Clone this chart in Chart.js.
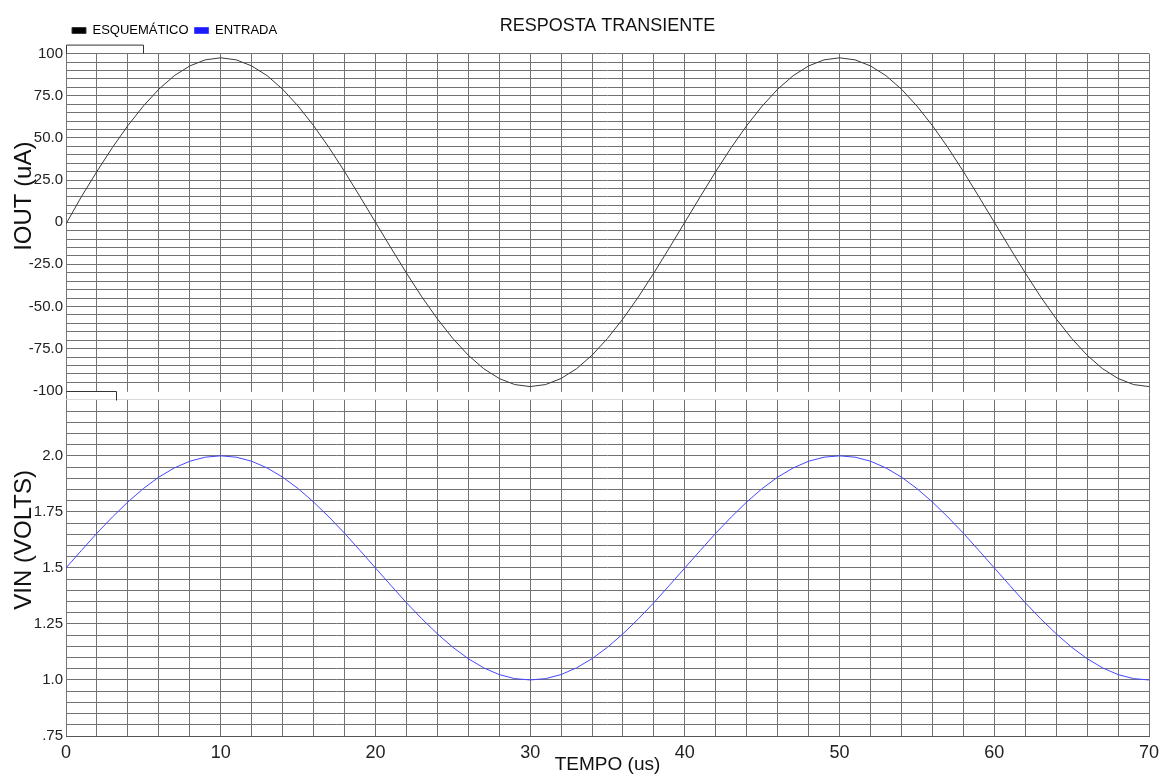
<!DOCTYPE html>
<html>
<head>
<meta charset="utf-8">
<title>Resposta transiente</title>
<script src="https://cdn.jsdelivr.net/npm/chart.js@4.4.1/dist/chart.umd.min.js"></script>
<style>
  html, body { margin: 0; padding: 0; background: #fff; }
  #quadro { position: relative; width: 1174px; height: 774px; }
</style>
</head>
<body>
<div id="quadro"><canvas id="grafico"></canvas></div>
<script>
// tempo em us
var tempo = [0, 1, 2, 3, 4, 5, 6, 7, 8, 9, 10, 11, 12, 13, 14, 15, 16, 17, 18, 19, 20,
  21, 22, 23, 24, 25, 26, 27, 28, 29, 30, 31, 32, 33, 34, 35, 36, 37, 38, 39, 40,
  41, 42, 43, 44, 45, 46, 47, 48, 49, 50, 51, 52, 53, 54, 55, 56, 57, 58, 59, 60,
  61, 62, 63, 64, 65, 66, 67, 68, 69, 70];

var iout = [-1, 15.2, 30.1, 44.3, 57.3, 68.9, 78.9, 86.9, 92.7, 96.3, 97.5,
  96.3, 92.7, 86.9, 78.9, 68.9, 57.3, 44.3, 30.1, 15.2, 0,
  -15.2, -30.1, -44.3, -57.3, -68.9, -78.9, -86.9, -92.7, -96.3, -97.5,
  -96.3, -92.7, -86.9, -78.9, -68.9, -57.3, -44.3, -30.1, -15.2, 0,
  15.2, 30.1, 44.3, 57.3, 68.9, 78.9, 86.9, 92.7, 96.3, 97.5,
  96.3, 92.7, 86.9, 78.9, 68.9, 57.3, 44.3, 30.1, 15.2, 0,
  -15.2, -30.1, -44.3, -57.3, -68.9, -78.9, -86.9, -92.7, -96.3, -97.5];

// VIN (volts) da entrada
var vin = [1.500, 1.578, 1.655, 1.727, 1.794, 1.854, 1.905, 1.946, 1.976, 1.994, 2.000,
  1.994, 1.976, 1.946, 1.905, 1.854, 1.794, 1.727, 1.655, 1.578, 1.500,
  1.422, 1.345, 1.273, 1.206, 1.146, 1.095, 1.054, 1.024, 1.006, 1.000,
  1.006, 1.024, 1.054, 1.095, 1.146, 1.206, 1.273, 1.345, 1.422, 1.500,
  1.578, 1.655, 1.727, 1.794, 1.854, 1.905, 1.946, 1.976, 1.994, 2.000,
  1.994, 1.976, 1.946, 1.905, 1.854, 1.794, 1.727, 1.655, 1.578, 1.500,
  1.422, 1.345, 1.273, 1.206, 1.146, 1.095, 1.054, 1.024, 1.006, 1.000];

var tempoTicks = [0, 10, 20, 30, 40, 50, 60, 70];
var tempoLabels = ['0', '10', '20', '30', '40', '50', '60', '70'];
var ioutTicks = [-100, -75, -50, -25, 0, 25, 50, 75, 100];
var ioutLabels = ['-100', '-75.0', '-50.0', '-25.0', '0', '25.0', '50.0', '75.0', '100'];
var vinTicks = [0.75, 1.0, 1.25, 1.5, 1.75, 2.0];
var vinLabels = ['.75', '1.0', '1.25', '1.5', '1.75', '2.0'];

var sans = "'Liberation Sans', Arial, sans-serif";
var corGrade = '#727272';

function rotulo(valores, textos) {
  return function (v) {
    for (var i = 0; i < valores.length; i++) {
      if (Math.abs(v - valores[i]) < 1e-6) return textos[i];
    }
    return '';
  };
}

function pontos(ys) {
  return tempo.map(function (t, i) { return { x: t, y: ys[i] }; });
}

function tituloVertical(c, texto, x, y) {
  c.save();
  c.fillStyle = '#111';
  c.font = '24px ' + sans;
  c.textAlign = 'center';
  c.textBaseline = 'middle';
  c.translate(x, y);
  c.rotate(-Math.PI / 2);
  c.fillText(texto, 0, 0);
  c.restore();
}

// titulos verticais e recortes do quadro
var extras = {
  id: 'extras',
  beforeDatasetsDraw: function (chart) {
    var c = chart.ctx, a = chart.chartArea, x = chart.scales.x;
    var yI = chart.scales.yI, yV = chart.scales.yV;
    var meio = yV.top - yI.bottom;
    c.save();
    if (meio > 0) {
      c.fillStyle = '#fff';
      c.fillRect(a.left + 1, yI.bottom + 1, a.right - a.left - 1, meio - 1.5);
    }
    c.strokeStyle = '#333';
    c.lineWidth = 1;
    var x0 = Math.round(x.getPixelForValue(0)) + 0.5;
    var x5 = Math.round(x.getPixelForValue(5)) + 0.5;
    var x3 = Math.round(x.getPixelForValue(3.2)) + 0.5;
    c.beginPath();
    c.moveTo(x0, a.top);
    c.lineTo(x0, a.top - 8.5);
    c.lineTo(x5, a.top - 8.5);
    c.lineTo(x5, a.top);
    c.moveTo(x0, Math.round(yI.bottom) + 0.5);
    c.lineTo(x3, Math.round(yI.bottom) + 0.5);
    c.lineTo(x3, Math.round(yV.top) + 0.5);
    c.stroke();
    c.restore();
  },
  afterDraw: function (chart) {
    var yI = chart.scales.yI, yV = chart.scales.yV;
    tituloVertical(chart.ctx, 'IOUT (uA)', 24, (yI.top + yI.bottom) / 2 - 26);
    tituloVertical(chart.ctx, 'VIN (VOLTS)', 24, (yV.top + yV.bottom) / 2 - 28);
  }
};

var grafico = new Chart(document.getElementById('grafico'), {
  type: 'line',
  data: {
    datasets: [
      {
        label: 'ESQUEMÁTICO',
        data: pontos(iout),
        yAxisID: 'yI',
        borderColor: '#3a3a3a',
        backgroundColor: '#000',
        borderWidth: 1,
        pointRadius: 0
      },
      {
        label: 'ENTRADA',
        data: pontos(vin),
        yAxisID: 'yV',
        borderColor: '#4646ff',
        backgroundColor: '#1a1aff',
        borderWidth: 1,
        pointRadius: 0
      }
    ]
  },
  plugins: [extras],
  options: {
    animation: false,
    responsive: true,
    maintainAspectRatio: false,
    layout: { padding: { top: 18, left: 0, right: 25, bottom: 0 } },
    plugins: {
      title: {
        display: true,
        text: 'RESPOSTA TRANSIENTE',
        fullSize: false,
        weight: 500,
        color: '#111',
        font: { family: sans, size: 18, weight: 'normal' },
        padding: { top: -32, bottom: 17 }
      },
      legend: {
        position: 'top',
        align: 'start',
        fullSize: false,
        weight: 1000,
        labels: {
          boxWidth: 14,
          boxHeight: 6,
          padding: 6,
          color: '#000',
          font: { family: sans, size: 13 }
        }
      },
      tooltip: { enabled: false }
    },
    scales: {
      x: {
        type: 'linear',
        min: 0,
        max: 70,
        afterFit: function (s) { s.height = 38; },
        ticks: {
          stepSize: 2,
          autoSkip: false,
          maxRotation: 0,
          padding: 6,
          color: '#222',
          font: { family: sans, size: 18 },
          callback: rotulo(tempoTicks, tempoLabels)
        },
        grid: { color: corGrade, drawTicks: false },
        border: { color: '#555' },
        title: {
          display: true,
          text: 'TEMPO (us)',
          color: '#111',
          font: { family: sans, size: 19 },
          padding: { top: 0, bottom: -2 }
        }
      },
      // eixos empilhados: o ultimo declarado fica no alto
      yV: {
        type: 'linear',
        position: 'left',
        stack: 'pilha',
        stackWeight: 336,
        min: 0.75,
        max: 2.25,
        afterFit: function (s) { s.width = 66; },
        ticks: {
          stepSize: 0.05,
          autoSkip: false,
          padding: 3,
          color: '#222',
          font: { family: sans, size: 15 },
          callback: rotulo(vinTicks, vinLabels)
        },
        grid: {
          drawTicks: false,
          color: function (ctx) {
            return ctx.tick && Math.abs(ctx.tick.value - 2.25) < 1e-6 ? '#c8c8c8' : corGrade;
          }
        },
        border: { display: false }
      },
      yEsp: {
        type: 'linear',
        position: 'left',
        stack: 'pilha',
        stackWeight: 9,
        afterFit: function (s) { s.width = 66; },
        ticks: { display: false },
        grid: { display: false },
        border: { display: false }
      },
      yI: {
        type: 'linear',
        position: 'left',
        stack: 'pilha',
        stackWeight: 337,
        min: -100,
        max: 100,
        afterFit: function (s) { s.width = 66; },
        ticks: {
          stepSize: 5,
          autoSkip: false,
          padding: 3,
          color: '#222',
          font: { family: sans, size: 15 },
          callback: rotulo(ioutTicks, ioutLabels)
        },
        grid: {
          drawTicks: false,
          color: function (ctx) {
            return ctx.tick && Math.abs(ctx.tick.value + 100) < 1e-6 ? 'rgba(0,0,0,0)' : corGrade;
          }
        },
        border: { display: false }
      }
    }
  }
});
</script>
</body>
</html>
